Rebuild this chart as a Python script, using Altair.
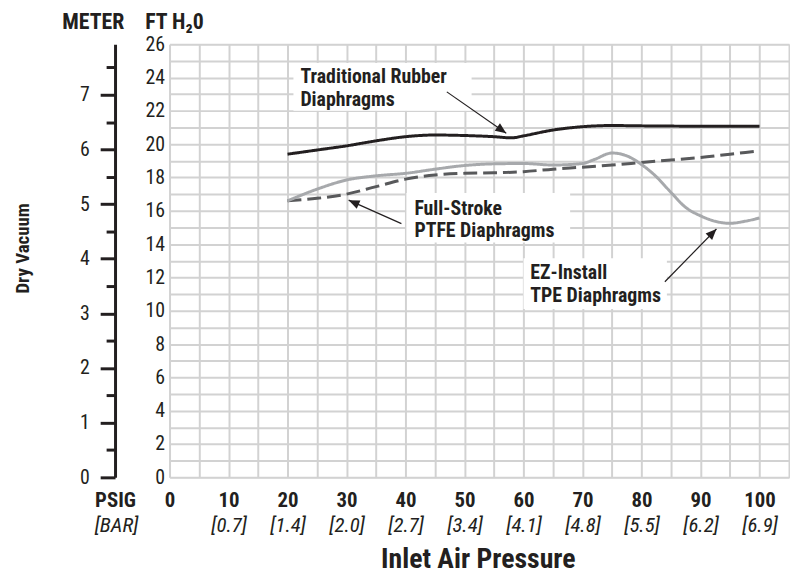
import altair as alt
import pandas as pd

FONT = "Liberation Sans Narrow, Arial Narrow, Roboto Condensed, DejaVu Sans Condensed, sans-serif"
INK = "#231f20"
GRID = "#d2d2d2"

# ---- data ----
rubber_x = [20, 25, 30, 35, 40, 45, 50, 55, 58, 60, 65, 70, 75, 80, 90, 100]
rubber_y = [19.4, 19.65, 19.9, 20.2, 20.45, 20.55, 20.52, 20.45, 20.38, 20.5, 20.85, 21.05, 21.12, 21.1, 21.08, 21.08]
ptfe_x = [20, 25, 30, 35, 40, 45, 50, 55, 60, 65, 70, 75, 80, 85, 90, 95, 100]
ptfe_y = [16.6, 16.75, 17.0, 17.45, 17.9, 18.15, 18.25, 18.28, 18.35, 18.5, 18.62, 18.75, 18.9, 19.05, 19.2, 19.4, 19.6]
tpe_x = [20, 25, 30, 35, 40, 45, 50, 55, 60, 65, 70, 72, 75, 77.5, 80, 82.5, 85, 87.5, 90, 92.5, 95, 97.5, 100]
tpe_y = [16.6, 17.3, 17.85, 18.1, 18.25, 18.5, 18.72, 18.82, 18.84, 18.75, 18.84, 19.08, 19.47, 19.3, 18.78, 18.05, 17.1, 16.2, 15.7, 15.37, 15.25, 15.37, 15.57]
series_names = ["Traditional Rubber", "Full-Stroke PTFE", "EZ-Install TPE"]
series_colors = [INK, "#58595b", "#a7a9ac"]

psig_ticks = [0, 10, 20, 30, 40, 50, 60, 70, 80, 90, 100]
bar_labels = ["", "[0.7]", "[1.4]", "[2.0]", "[2.7]", "[3.4]", "[4.1]", "[4.8]", "[5.5]", "[6.2]", "[6.9]"]
x_grid = [0, 5, 10, 15, 20, 25, 30, 35, 40, 45, 50, 55, 60, 65, 70, 75, 80, 85, 90, 95, 100, 105]
ft_ticks = [0, 2, 4, 6, 8, 10, 12, 14, 16, 18, 20, 22, 24, 26]
ft_grid = list(range(0, 27))
meter_major = [0, 1, 2, 3, 4, 5, 6, 7]
meter_minor = [0.5, 1.5, 2.5, 3.5, 4.5, 5.5, 6.5, 7.5]
FT_PER_M = 3.2808

ann_text = ["Traditional Rubber", "Diaphragms", "Full-Stroke", "PTFE Diaphragms", "EZ-Install", "TPE Diaphragms"]
ann_x = [22.18, 22.18, 41.5, 41.5, 61.15, 61.15]
ann_y = [23.68, 22.31, 15.76, 14.40, 11.9, 10.53]

box_x = [21.0, 40.15, 60.0]
box_x2 = [51.2, 67.9, 84.3]
box_y = [24.87, 17.07, 13.15]
box_y2 = [22.0, 14.1, 10.1]

arrow_x = [47.0, 39.3, 83.96]
arrow_y = [23.14, 15.23, 11.74]
arrow_x2 = [57.07, 30.36, 92.7]
arrow_y2 = [20.66, 16.64, 14.91]
arrow_angle = [124.9, 294.0, 44.2]

# ---- tables ----
lines_df = pd.concat([
    pd.DataFrame({"x": rubber_x, "y": rubber_y, "s": series_names[0]}),
    pd.DataFrame({"x": ptfe_x, "y": ptfe_y, "s": series_names[1]}),
    pd.DataFrame({"x": tpe_x, "y": tpe_y, "s": series_names[2]}),
])
ann_df = pd.DataFrame({"t": ann_text, "x": ann_x, "y": ann_y})
box_df = pd.DataFrame({"x": box_x, "x2": box_x2, "y": box_y, "y2": box_y2})
arrow_df = pd.DataFrame({"x": arrow_x, "y": arrow_y, "x2": arrow_x2, "y2": arrow_y2, "a": arrow_angle})
bar_expr = "{" + ",".join(f"'{v}':'{l}'" for v, l in zip(psig_ticks, bar_labels)) + "}"
meter_major_df = pd.DataFrame({"m": meter_major})
meter_minor_df = pd.DataFrame({"m": meter_minor})

xs = alt.Scale(domain=[0, 105], nice=False, zero=False)
def ys():
    return alt.Scale(domain=[0, 26], nice=False, zero=False)
def ms():
    return alt.Scale(domain=[0, 26 / FT_PER_M], nice=False, zero=False)

common_title = dict(titleFont=FONT, titleColor=INK, titleFontWeight="bold", titleBaseline="alphabetic", titleAlign="center")

# grid layer + x title + FT title
grid_layer = alt.Chart(lines_df).mark_point(opacity=0).encode(
    x=alt.X("x:Q", scale=xs, axis=alt.Axis(
        orient="bottom", values=x_grid, grid=True, gridColor=GRID, gridWidth=2, labels=False, ticks=False,
        domain=False, title="Inlet Air Pressure", titleX=311, titleY=91, titleFontSize=28, **common_title)),
    y=alt.Y("y:Q", scale=ys(), axis=alt.Axis(
        orient="left", values=ft_grid, grid=True, gridColor=GRID, gridWidth=2, labels=False, ticks=False,
        domain=False, title="FT H₂0", titleX=4.5, titleY=-16, titleAngle=0, titleFontSize=22, **common_title)),
)

# bold PSIG labels
psig_layer = alt.Chart(lines_df).mark_point(opacity=0).encode(
    x=alt.X("x:Q", scale=xs, axis=alt.Axis(
        orient="bottom", values=psig_ticks, grid=False, ticks=False, tickSize=0, domain=False,
        labelFont=FONT, labelFontSize=21, labelFontWeight="bold", labelColor=INK, labelBaseline="alphabetic",
        labelPadding=29, labelFlush=False, labelOverlap=False,
        title="PSIG", titleX=-55, titleY=29, titleFontSize=21, **common_title)),
)

# italic BAR labels
bar_layer = alt.Chart(lines_df).mark_point(opacity=0).encode(
    x=alt.X("x:Q", scale=xs, axis=alt.Axis(
        orient="bottom", values=psig_ticks, grid=False, ticks=False, tickSize=0, domain=False,
        labelExpr=bar_expr + "[datum.value + '']",
        labelFont=FONT, labelFontSize=21, labelFontStyle="italic", labelColor=INK, labelBaseline="alphabetic",
        labelPadding=55, labelFlush=False, labelOverlap=False,
        title="[BAR]", titleX=-54, titleY=55, titleFontSize=21, titleFontStyle="italic",
        titleFont=FONT, titleColor=INK, titleFontWeight="normal", titleBaseline="alphabetic", titleAlign="center")),
)

# FT labels
ft_layer = alt.Chart(lines_df).mark_point(opacity=0).encode(
    y=alt.Y("y:Q", scale=ys(), axis=alt.Axis(
        orient="left", values=ft_ticks, grid=False, ticks=False, tickSize=0, domain=False,
        labelFont=FONT, labelFontSize=20, labelColor=INK, labelPadding=5, labelOverlap=False, title=None)),
)

# meter axis, major ticks
meter_major_layer = alt.Chart(meter_major_df).mark_point(opacity=0).encode(
    y=alt.Y("m:Q", scale=ms(), axis=alt.Axis(
        orient="left", offset=55, values=meter_major, grid=False, ticks=True, tickSize=15, tickWidth=3,
        tickColor=INK, domain=True, domainColor=INK, domainWidth=3,
        labelFont=FONT, labelFontSize=20, labelColor=INK, labelPadding=11, labelOverlap=False,
        title="METER", titleX=-22.5, titleY=-16, titleAngle=0, titleFontSize=22, **common_title)),
)

# meter axis, minor ticks + vertical title
meter_minor_layer = alt.Chart(meter_minor_df).mark_point(opacity=0).encode(
    y=alt.Y("m:Q", scale=ms(), axis=alt.Axis(
        orient="left", offset=55, values=meter_minor, grid=False, ticks=True, tickSize=9, tickWidth=3,
        tickColor=INK, domain=False, labels=False,
        title="Dry Vacuum", titleX=-87, titleY=205.5, titleAngle=270, titleFontSize=19, **common_title)),
)

box_layer = alt.Chart(box_df).mark_rect(color="white").encode(
    x=alt.X("x:Q", scale=xs, axis=None), x2="x2:Q",
    y=alt.Y("y:Q", scale=ys(), axis=None), y2="y2:Q",
)

line_layer = alt.Chart(lines_df).mark_line(interpolate="monotone", strokeWidth=3).encode(
    x=alt.X("x:Q", scale=xs, axis=None),
    y=alt.Y("y:Q", scale=ys(), axis=None),
    color=alt.Color("s:N", scale=alt.Scale(domain=series_names, range=series_colors), legend=None),
    strokeDash=alt.StrokeDash("s:N", scale=alt.Scale(domain=series_names, range=[[1, 0], [14, 6], [1, 0]]), legend=None),
    strokeWidth=alt.StrokeWidth("s:N", scale=alt.Scale(domain=series_names, range=[3, 3, 2.6]), legend=None),
)

rule_layer = alt.Chart(arrow_df).mark_rule(color=INK, strokeWidth=1.2).encode(
    x=alt.X("x:Q", scale=xs, axis=None), x2="x2:Q",
    y=alt.Y("y:Q", scale=ys(), axis=None), y2="y2:Q",
)

head_layer = alt.Chart(arrow_df).mark_point(
    shape="M0,0L-0.42,1L0.42,1Z", filled=True, color=INK, opacity=1, size=480, strokeWidth=0
).encode(
    x=alt.X("x2:Q", scale=xs, axis=None),
    y=alt.Y("y2:Q", scale=ys(), axis=None),
    angle=alt.Angle("a:Q", scale=None),
)

text_layer = alt.Chart(ann_df).mark_text(
    align="left", baseline="alphabetic", font=FONT, fontSize=20, fontWeight="bold", color=INK
).encode(
    x=alt.X("x:Q", scale=xs, axis=None),
    y=alt.Y("y:Q", scale=ys(), axis=None),
    text="t:N",
)

chart = alt.layer(
    grid_layer, psig_layer, bar_layer, ft_layer, meter_major_layer, meter_minor_layer,
    box_layer, line_layer, rule_layer, head_layer, text_layer,
).resolve_scale(y="independent").resolve_axis(x="independent", y="independent").properties(
    width=625, height=437,
    autosize=alt.AutoSizeParams(type="none"),
    padding={"left": 163, "top": 34, "right": 1, "bottom": 100},
).configure_view(stroke=None).configure(background="white")

chart.save("out.html", embed_options={"renderer": "svg", "actions": False})
